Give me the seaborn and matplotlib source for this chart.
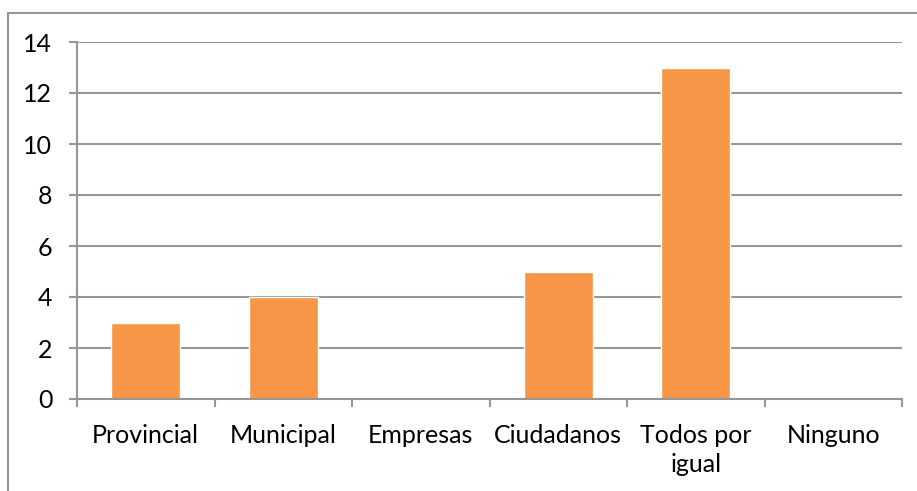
import numpy as np
import pandas as pd
import matplotlib
matplotlib.use("Agg")
import matplotlib.pyplot as plt
import seaborn as sns
from matplotlib.lines import Line2D

categorias = ["Provincial", "Municipal", "Empresas", "Ciudadanos", "Todos por\nigual", "Ninguno"]
valores = [3, 4, 0, 5, 13, 0]
yticks = [0, 2, 4, 6, 8, 10, 12, 14]

sns.set_theme(style="white")
plt.rcParams["font.family"] = ["Lato", "DejaVu Sans"]

gris = "#969696"
naranja = "#F79646"

df = pd.DataFrame({"cat": categorias, "val": valores})

fig = plt.figure(figsize=(9.17, 4.91), dpi=100)
ax = fig.add_axes([77 / 917, 1 - 399 / 491, (902 - 77) / 917, (399 - 42) / 491])

sns.barplot(data=df, x="cat", y="val", color=naranja, width=0.5, saturation=1, ax=ax)

ax.set_xlim(-0.5, len(categorias) - 0.5)
ax.set_ylim(0, 14)
ax.set_yticks(yticks)
ax.set_yticklabels([str(t) for t in yticks])
ax.set_xlabel("")
ax.set_ylabel("")

ax.yaxis.grid(True, color=gris, linewidth=1.5)
ax.set_axisbelow(True)

for s in ["top", "right"]:
    ax.spines[s].set_visible(False)
for s in ["left", "bottom"]:
    ax.spines[s].set_color(gris)
    ax.spines[s].set_linewidth(1.5)

for lbl in ax.get_xticklabels():
    lbl.set_linespacing(1.3)

ax.set_xticks(np.arange(-0.5, len(categorias), 1), minor=True)
ax.tick_params(axis="x", which="major", length=0, pad=18, labelsize=18, labelcolor="black")
ax.tick_params(axis="x", which="minor", length=5.8, width=1.5, color=gris, direction="out", bottom=True)
ax.tick_params(axis="y", which="major", length=5.8, width=1.5, color=gris, direction="out",
               left=True, pad=12, labelsize=18, labelcolor="black")

# borde del grafico
fig.add_artist(Line2D([8 / 917, 1], [1 - 13 / 491, 1 - 13 / 491], color=gris, linewidth=1.5,
                      transform=fig.transFigure))
fig.add_artist(Line2D([8 / 917, 8 / 917], [0, 1 - 13 / 491], color=gris, linewidth=1.5,
                      transform=fig.transFigure))

fig.savefig("out.png", dpi=100)
